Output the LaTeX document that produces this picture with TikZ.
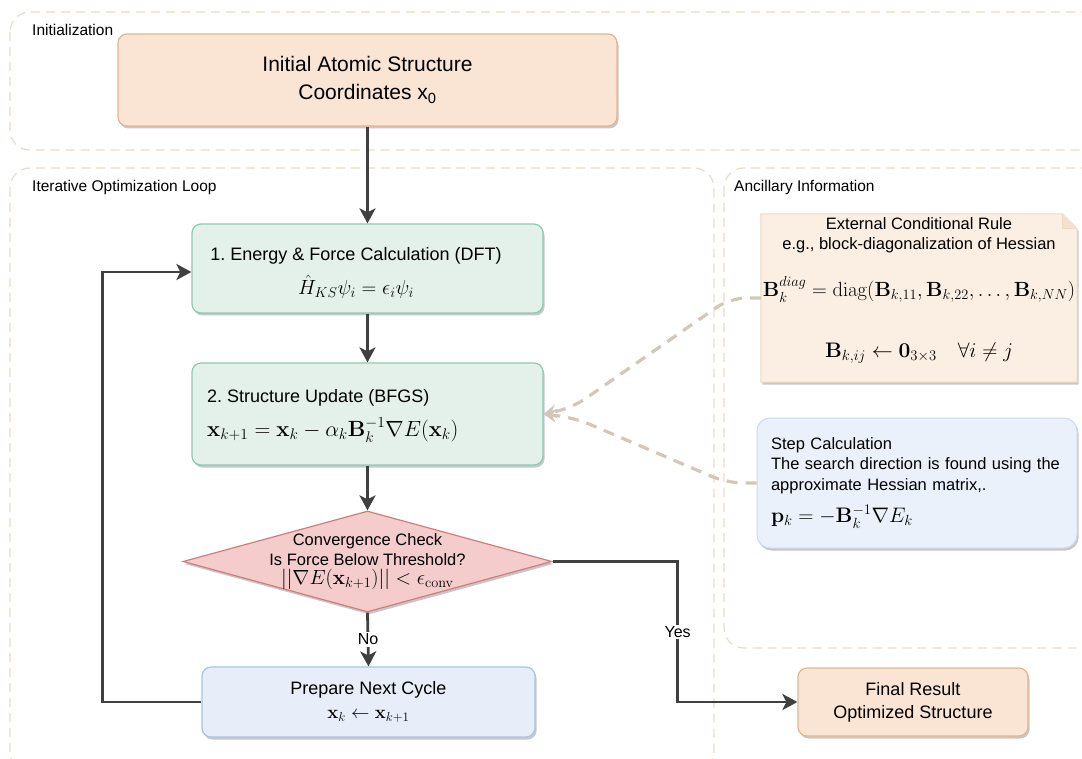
\RequirePackage{fix-cm}
\documentclass[tikz,border=0pt]{standalone}
\usepackage{amsmath,amssymb}
\usepackage[no-math]{fontspec}
\setmainfont{Liberation Sans}
\usetikzlibrary{arrows.meta,shadows,shapes.geometric,calc}
\definecolor{clusterc}{HTML}{EADBC8}
\definecolor{peachf}{HTML}{FAE5D4}
\definecolor{peachd}{HTML}{E6B48C}
\definecolor{greenf}{HTML}{E3F1EA}
\definecolor{greend}{HTML}{8CCBB0}
\definecolor{redf}{HTML}{F4CCCC}
\definecolor{redd}{HTML}{D27D7D}
\definecolor{bluef}{HTML}{E7EEF9}
\definecolor{blued}{HTML}{A9C4E7}
\definecolor{notef}{HTML}{FBEEE3}
\definecolor{noted}{HTML}{F1D9C2}
\definecolor{stepf}{HTML}{EBF1FA}
\definecolor{stepd}{HTML}{CCDAEE}
\definecolor{arrc}{HTML}{404040}
\definecolor{dashc}{HTML}{D3C8B8}
\newcommand{\mfs}[1]{\fontsize{#1}{#1}\selectfont}
\tikzset{
  cluster/.style={draw=clusterc, line width=1.2pt, dash pattern=on 9pt off 6pt, rounded corners=20pt},
  clabel/.style={font=\fontsize{15.5}{18}\selectfont, anchor=west, inner sep=0pt},
  shadowed/.style={drop shadow={shadow xshift=1.5pt,shadow yshift=-2.5pt,opacity=0.22,fill=black}},
  boxbase/.style={rounded corners=9pt, line width=1.2pt, shadowed, font=\fontsize{18}{24}\selectfont},
  peachbox/.style={boxbase, fill=peachf, draw=peachd},
  greenbox/.style={boxbase, fill=greenf, draw=greend},
  bluebox/.style={boxbase, fill=bluef, draw=blued},
  boxtext/.style={inner sep=0pt, font=\fontsize{18}{24}\selectfont},
  arr/.style={draw=arrc, line width=2.8pt, -{Stealth[length=15pt,width=16pt,inset=4pt]}},
  dconn/.style={draw=dashc, line width=3.2pt, dash pattern=on 11pt off 8pt, rounded corners=16pt,
     -{Stealth[length=13pt,width=14pt,inset=5pt]}},
  lbl/.style={fill=white, inner sep=1.5pt, font=\fontsize{16}{19}\selectfont},
}
\begin{document}
\begin{tikzpicture}[x=1pt,y=-1pt]
\useasboundingbox (0,0) rectangle (1082,759);
% clusters
\draw[cluster] (10,12) rectangle (1110,150);
\node[clabel] (lblinit) at (32,30) {Initialization};
\draw[cluster] (10,168) rectangle (714,772);
\node[clabel] (lblloop) at (32,187) {Iterative Optimization Loop};
\draw[cluster] (724,168) rectangle (1110,648);
\node[clabel] (lblanc) at (734,187) {Ancillary Information};

% initial
\node[peachbox, minimum width=499pt, minimum height=92pt, align=center,
      font=\fontsize{21}{28}\selectfont] (init) at (367.5,80)
  {Initial Atomic Structure\\Coordinates x\textsubscript{0}};

% box 1
\node[greenbox, minimum width=351pt, minimum height=89pt] (b1) at (367.5,268.5) {};
\node[boxtext, align=center] (b1text) at (356,273)
  {1.\ Energy \& Force Calculation (DFT)\\[10pt]
   {\mfs{20.5}$\hat{H}_{KS}\psi_i = \epsilon_i\psi_i$}};

% box 2
\node[greenbox, minimum width=351pt, minimum height=102pt] (b2) at (367.5,414) {};
\node[boxtext, align=left, anchor=west] (b2text) at (207,416)
  {2.\ Structure Update (BFGS)\\[10pt]
   {\mfs{22}$\mathbf{x}_{k+1} = \mathbf{x}_k - \alpha_k\mathbf{B}_k^{-1}\nabla E(\mathbf{x}_k)$}};

% diamond
\node[diamond, draw=redd, fill=redf, line width=1.2pt, minimum width=369pt, minimum height=101pt,
      inner sep=0pt, shadowed] (conv) at (367.5,561.5) {};
\node[align=center, font=\fontsize{16.5}{19.5}\selectfont] (convtext) at (367.5,562)
  {Convergence Check\\ Is Force Below Threshold?\\
   {\mfs{20.5}$||\nabla E(\mathbf{x}_{k+1})|| < \epsilon_{\mathrm{conv}}$}};

% prepare
\node[bluebox, minimum width=333pt, minimum height=70pt, align=center] (prep) at (368.5,702)
  {Prepare Next Cycle\\ {\mfs{18.5}$\mathbf{x}_k \leftarrow \mathbf{x}_{k+1}$}};

% final
\node[peachbox, minimum width=230pt, minimum height=68pt, align=center,
      font=\fontsize{18}{23}\selectfont] (fin) at (913,702)
  {Final Result\\Optimized Structure};

% note (external rule)
\node[minimum width=316pt, minimum height=168pt, inner sep=0pt] (ext) at (919,298) {};
\draw[fill=notef, draw=noted, line width=1pt, shadowed]
  (ext.north west) -- ($(ext.north east)+(-15,0)$) -- ($(ext.north east)+(0,15)$)
  -- (ext.south east) -- (ext.south west) -- cycle;
\draw[fill=noted!60!notef, draw=noted, line width=1pt]
  ($(ext.north east)+(-15,0)$) -- ($(ext.north east)+(-15,15)$) -- ($(ext.north east)+(0,15)$);
\node[anchor=north, align=center, font=\fontsize{16.5}{20}\selectfont, inner sep=0pt] (exttext) at (919,217)
  {External Conditional Rule\\ e.g., block-diagonalization of Hessian\\[23pt]
   {\mfs{20.5}$\mathbf{B}_k^{diag} = \mathrm{diag}(\mathbf{B}_{k,11},\mathbf{B}_{k,22},\ldots,\mathbf{B}_{k,NN})$}\\[39pt]
   {\mfs{21}$\mathbf{B}_{k,ij} \leftarrow \mathbf{0}_{3\times3} \quad \forall i \neq j$}};

% step calculation
\node[fill=stepf, draw=stepd, line width=1pt, rounded corners=13pt, shadowed,
      minimum height=130pt, text width=292pt, inner xsep=14pt, align=left,
      font=\fontsize{16.5}{20.5}\selectfont] (stepc) at (917,483)
  {Step Calculation\\The search direction is found using the\\approximate Hessian matrix,.\\[10pt]
   {\mfs{21}$\mathbf{p}_k = -\mathbf{B}_k^{-1}\nabla E_k$}};

% main connectors
\draw[arr] (init.south) -- (b1.north);
\draw[arr] (b1.south) -- (b2.north);
\draw[arr] (b2.south) -- (conv.north);
\draw[arr] (conv.south) -- node[lbl, pos=0.5] (nolbl) {No} (prep.north);
\draw[arr] (prep.west) -- ++(-99,0) |- ([yshift=-3.5pt]b1.west);
\draw[arr] (conv.east) -- ++(125,0) |- node[lbl, pos=0.25] (yeslbl) {Yes} (fin.west);

% dashed connectors
\draw[dconn] (ext.west) -- (730,298) -- (572,408) -- (b2.east);
\draw[dconn] (stepc.west) -- (727,483) -- (575,418) -- (b2.east);
\end{tikzpicture}
\end{document}
